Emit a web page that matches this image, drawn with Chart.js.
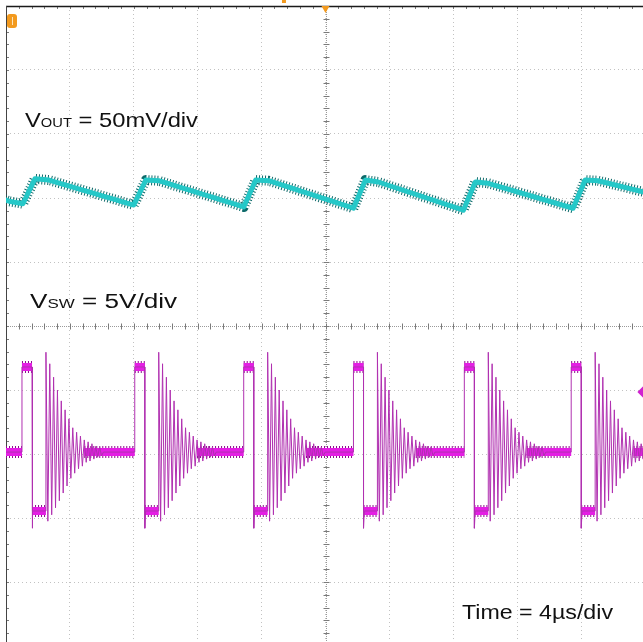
<!DOCTYPE html>
<html>
<head>
<meta charset="utf-8">
<script src="https://cdn.jsdelivr.net/npm/chart.js@4.4.1/dist/chart.umd.min.js"></script>
<style>
  html, body { margin: 0; padding: 0; background: #fff; overflow: hidden; }
  #wrap { position: absolute; left: 0; top: 0; width: 660px; height: 660px; }
</style>
</head>
<body>
<div id="wrap"><canvas id="scope" width="660" height="660"></canvas></div>
<script>
// time axis in µs (4 µs/div, 10 div), vertical axis in divisions (-5..5)
const voutT = [-0.3, 0.19, 1.06, 1.81, 2.69, 8.0, 8.75, 9.56, 14.88, 15.63, 16.44, 21.75, 22.5, 23.31, 28.63, 29.38, 30.19, 35.5, 36.25, 37.06, 40];
const voutV = [2.0, 1.95, 1.91, 2.30, 2.28, 1.89, 2.28, 2.27, 1.86, 2.28, 2.27, 1.84, 2.28, 2.25, 1.81, 2.25, 2.23, 1.84, 2.28, 2.27, 2.09];

// switch node: rising edges of each cycle (µs)
const swRise = [1.0, 8.06, 14.88, 21.75, 28.69, 35.38];
const swBase = -1.97, swHigh = -0.64, swLow = -2.89, swSpike = -3.16;
const swHighLen = 0.63, swDeadLen = 0.87, ringStep = 0.12, bandDelay = 2.4;
// ringing peaks after the low-side turn on (div)
const ringPeaks = [-0.41, -3.05, -0.59, -2.95, -0.80, -2.84, -1.0, -2.73, -1.17, -2.61,
  -1.31, -2.5, -1.45, -2.38, -1.59, -2.30, -1.66, -2.23, -1.72, -2.19,
  -1.78, -2.13, -1.81, -2.11, -1.84, -2.08, -1.88, -2.05, -1.89, -2.03];

const gridStep = 4;

function buildSwTrace() {
  const pts = [{x: 0, y: swBase}];
  swRise.forEach(r => {
    pts.push({x: r, y: swBase}, {x: r, y: swHigh});
    const f = r + swHighLen;
    pts.push({x: f, y: swHigh}, {x: f, y: swSpike}, {x: f + 0.05, y: swLow});
    const s = f + swDeadLen;
    pts.push({x: s, y: swLow});
    ringPeaks.forEach((p, i) => pts.push({x: s + i * ringStep, y: p}));
    pts.push({x: s + ringPeaks.length * ringStep, y: swBase});
  });
  pts.push({x: 40, y: swBase});
  return pts;
}

function buildSwBands() {
  const pts = [{x: 0, y: swBase}];
  swRise.forEach(r => {
    const f = r + swHighLen, s = f + swDeadLen;
    pts.push({x: r, y: swBase}, {x: r, y: null});
    pts.push({x: r, y: swHigh}, {x: f, y: swHigh}, {x: f, y: null});
    pts.push({x: f, y: swLow}, {x: s, y: swLow}, {x: s, y: null});
    pts.push({x: s + bandDelay, y: swBase});
  });
  pts.push({x: 40, y: swBase});
  return pts;
}

const voutPts = voutT.map((t, i) => ({x: t, y: voutV[i]}));
const swBands = buildSwBands();

function hline(ctx, x1, x2, y) { ctx.beginPath(); ctx.moveTo(x1, y); ctx.lineTo(x2, y); ctx.stroke(); }
function vline(ctx, x, y1, y2) { ctx.beginPath(); ctx.moveTo(x, y1); ctx.lineTo(x, y2); ctx.stroke(); }

const scopeDecor = {
  id: 'scopeDecor',
  beforeDatasetsDraw(chart) {
    const {ctx, chartArea: a, scales: {x, y}} = chart;
    const cx = Math.round(x.getPixelForValue(20)) + 0.5;
    const cy = Math.round(y.getPixelForValue(0)) + 0.5;
    ctx.save();
    ctx.lineWidth = 1;
    // center cross
    ctx.strokeStyle = '#9a9a9a';
    ctx.setLineDash([1, 1]);
    vline(ctx, cx, a.top, a.bottom);
    hline(ctx, a.left, a.right, cy);
    ctx.setLineDash([]);
    // minor ticks: 5 per division
    ctx.strokeStyle = '#7a7a7a';
    for (let i = 0; i <= 50; i++) {
      const px = Math.round(x.getPixelForValue(i * 0.8)) + 0.5;
      vline(ctx, px, cy - 3, cy + 3);
      vline(ctx, px, a.top, a.top + 3);
      const py = Math.round(y.getPixelForValue(-5 + i * 0.2)) + 0.5;
      hline(ctx, cx - 3, cx + 3, py);
      hline(ctx, a.left, a.left + 3, py);
    }
    // frame
    ctx.strokeStyle = '#1a1a1a';
    ctx.lineWidth = 1.5;
    hline(ctx, a.left, a.right, a.top + 0.5);
    ctx.strokeStyle = '#444';
    ctx.lineWidth = 1;
    vline(ctx, a.left + 0.5, a.top, a.bottom);
    ctx.restore();
  },
  afterDatasetsDraw(chart) {
    const {ctx, chartArea: a, scales: {x}} = chart;
    ctx.save();
    // channel 1 marker
    ctx.fillStyle = '#f39a1e';
    ctx.beginPath();
    ctx.roundRect(a.left + 1, a.top + 8, 10, 14, 3);
    ctx.fill();
    ctx.fillStyle = '#fde3b8';
    ctx.fillRect(a.left + 6, a.top + 11, 1, 8);
    // trigger position marker
    const tx = x.getPixelForValue(20);
    ctx.fillStyle = '#f39a1e';
    ctx.beginPath();
    ctx.moveTo(tx - 4, a.top);
    ctx.lineTo(tx + 4, a.top);
    ctx.lineTo(tx, a.top + 7);
    ctx.closePath();
    ctx.fill();
    ctx.fillRect(x.getPixelForValue(17.4) - 2, 0, 4, 3);
    // labels
    ctx.fillStyle = '#111';
    drawLabel(ctx, [['V', 21], ['OUT', 13], [' = 50mV/div', 21]], 25, 127, 173);
    drawLabel(ctx, [['V', 20], ['SW', 13], [' = 5V/div', 20]], 30, 308, 147);
    drawLabel(ctx, [['Time = 4µs/div', 20]], 462, 619, 151);
    ctx.restore();
  }
};

function drawLabel(ctx, parts, x, base, width) {
  let natural = 0;
  const widths = parts.map(([t, s]) => {
    ctx.font = s + 'px "Liberation Sans", Arial, sans-serif';
    const w = ctx.measureText(t).width;
    natural += w;
    return w;
  });
  ctx.save();
  ctx.translate(x, base);
  ctx.scale(width / natural, 1);
  let cur = 0;
  parts.forEach(([t, s], i) => {
    ctx.font = s + 'px "Liberation Sans", Arial, sans-serif';
    ctx.fillText(t, cur, 0);
    cur += widths[i];
  });
  ctx.restore();
}

new Chart(document.getElementById('scope'), {
  type: 'line',
  data: {
    datasets: [
      {
        label: 'trigger level',
        data: [{x: 39.9, y: -1.03}],
        showLine: false,
        pointStyle: 'rectRot',
        pointRadius: 6,
        pointBackgroundColor: '#d020d0',
        pointBorderWidth: 0,
        order: 0
      },
      {
        label: 'VSW ringing',
        data: buildSwTrace(),
        borderColor: '#b030b0',
        borderWidth: 1,
        order: 1
      },
      {
        label: 'VSW band',
        data: swBands,
        borderColor: '#e41ee4',
        borderWidth: 8,
        spanGaps: false,
        order: 2
      },
      {
        label: 'VSW band noise',
        data: swBands,
        borderColor: '#8e0a8e',
        borderWidth: 12,
        borderDash: [1, 2],
        borderCapStyle: 'butt',
        spanGaps: false,
        order: 3
      },
      {
        label: 'VOUT',
        data: voutPts,
        borderColor: '#25c8c8',
        borderWidth: 5,
        order: 4
      },
      {
        label: 'VOUT noise',
        data: voutPts,
        borderColor: '#0d6a6a',
        borderWidth: 10,
        borderDash: [1, 2],
        borderCapStyle: 'butt',
        order: 5
      }
    ]
  },
  options: {
    responsive: false,
    animation: false,
    layout: { padding: { left: 5, top: 6, right: 15, bottom: 14 } },
    elements: {
      point: { radius: 0 },
      line: { tension: 0, borderJoinStyle: 'round' }
    },
    scales: {
      x: {
        type: 'linear',
        min: 0,
        max: 40,
        ticks: { display: false, stepSize: gridStep },
        grid: { color: '#c2c2c2', drawTicks: false },
        border: { display: false, dash: [1, 3] },
        afterFit(s) { s.height = 0; }
      },
      y: {
        type: 'linear',
        min: -5,
        max: 5,
        ticks: { display: false, stepSize: 1 },
        grid: { color: '#c2c2c2', drawTicks: false },
        border: { display: false, dash: [1, 3] },
        afterFit(s) { s.width = 0; }
      }
    },
    plugins: {
      legend: { display: false },
      tooltip: { enabled: false }
    }
  },
  plugins: [scopeDecor]
});
</script>
</body>
</html>
